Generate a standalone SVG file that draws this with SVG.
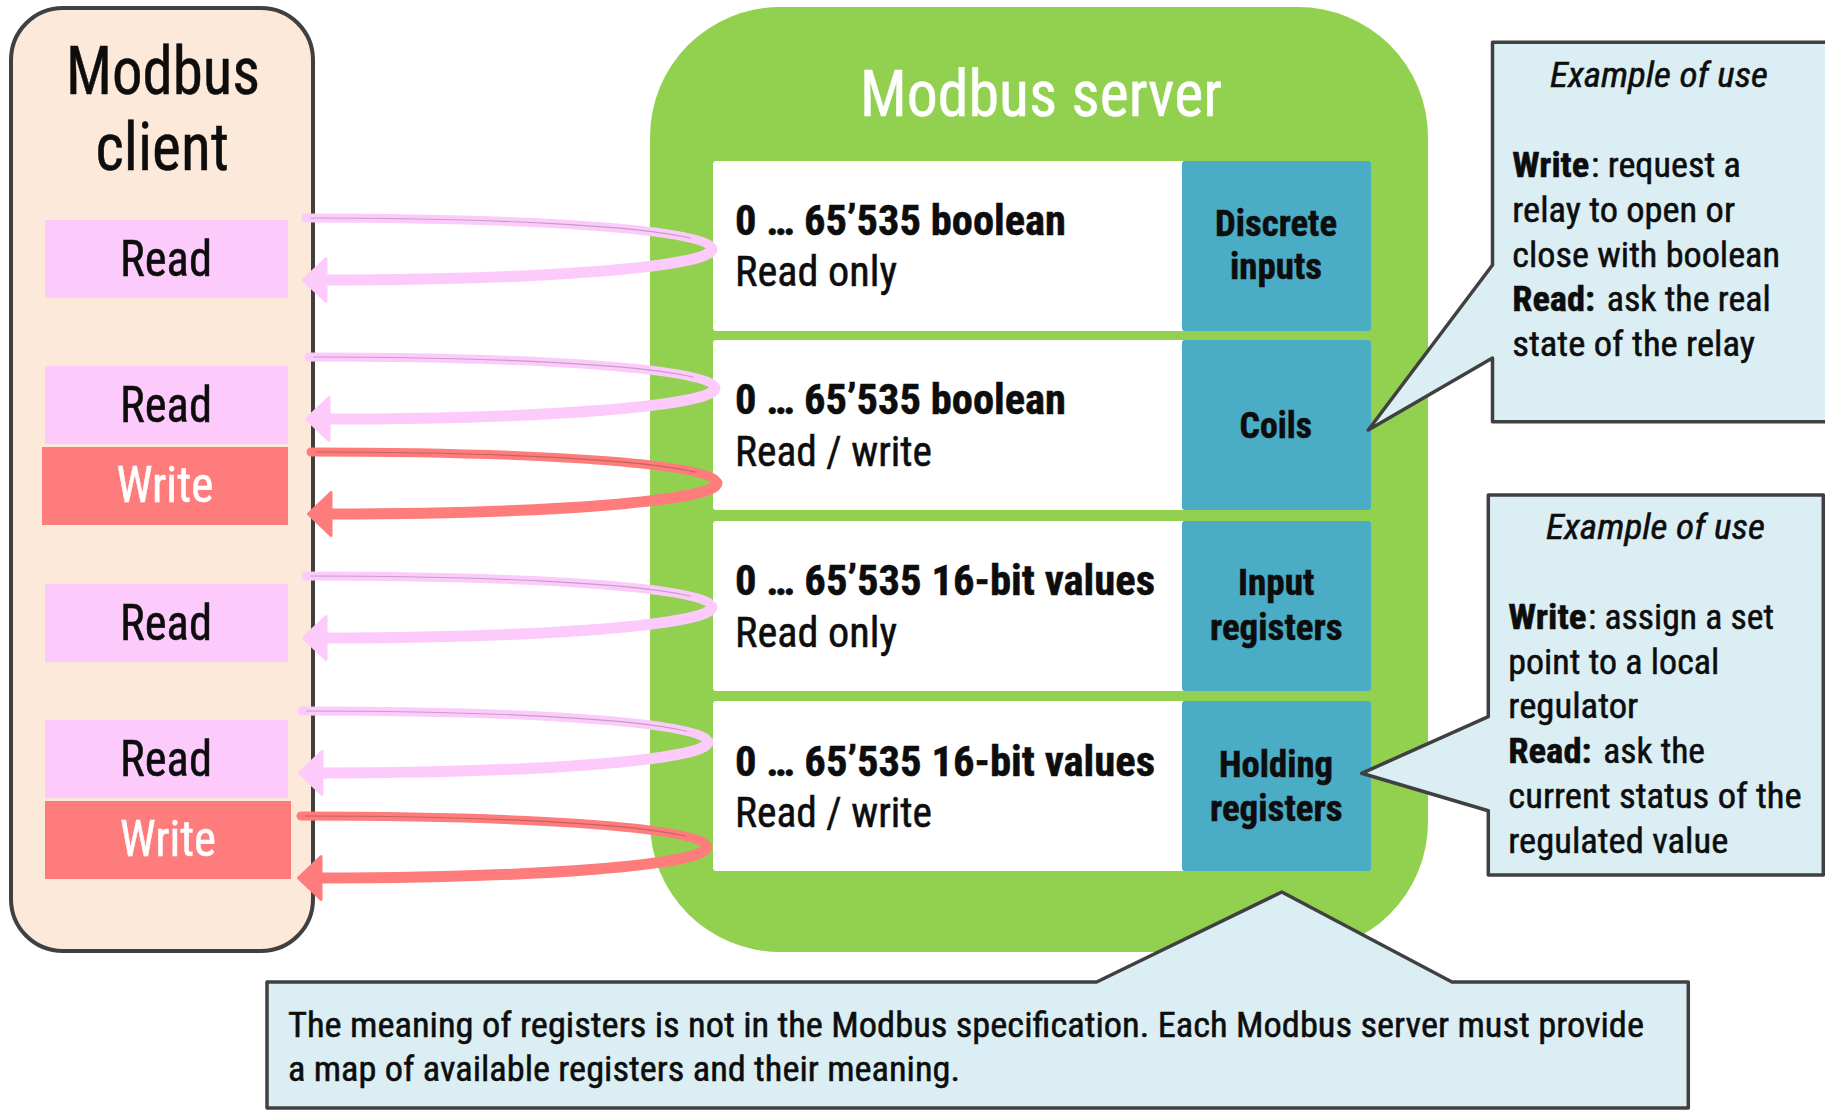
<svg xmlns="http://www.w3.org/2000/svg" xmlns:xlink="http://www.w3.org/1999/xlink" width="1825" height="1110" viewBox="0 0 1825 1110">
  <style>
    text { font-family: 'Roboto Condensed', Roboto, 'Liberation Sans', sans-serif; font-stretch: condensed; fill: #0d0d0d; stroke: #0d0d0d; stroke-width: 0.5px; }
    .title-client { font-size: 66px; }
    .title-server { font-size: 64px; fill: #ffffff; stroke: #ffffff; }
    .op { font-size: 50px; }
    .op-write-text { fill: #ffffff; stroke: #ffffff; }
    .op-read-box { fill: #fccbfc; }
    .op-write-box { fill: #fe7c7c; }
    .range { font-size: 42px; font-weight: bold; }
    .access { font-size: 42px; }
    .kind { font-size: 36px; font-weight: bold; }
    .cell { fill: #ffffff; }
    .kind-box { fill: #4bacc6; }
    .note-shape { fill: #daeef3; stroke: #404040; stroke-width: 3.5; stroke-linejoin: round; }
    .note { font-size: 35px; }
    .note-head { font-size: 35px; font-style: italic; }
    .note-b { font-size: 35px; font-weight: bold; }
    .pink { color: #fccbfc; }
    .red { color: #fe7c7c; }
  </style>
  <defs>
    <!-- request/response loop: origin = arrow tip x, upper stroke y -->
    <g id="loop">
      <path d="M4,0 C250,0 410,13 410,31" fill="none" stroke="currentColor" stroke-width="9" stroke-linecap="round"/>
      <path d="M4,0 C250,0 410,13 410,31" fill="none" stroke="#000" stroke-opacity="0.22" stroke-width="1.2" pathLength="100" stroke-dasharray="0 1 93 10"/>
      <path d="M410,31 C410,49 240,62 22,62" fill="none" stroke="currentColor" stroke-width="11" stroke-linecap="round"/>
      <polygon points="1.5,62 24,40.5 24,83.5" fill="currentColor" stroke="currentColor" stroke-width="3" stroke-linejoin="round"/>
    </g>
  </defs>

  <rect width="1825" height="1110" fill="#ffffff"/>

  <!-- client -->
  <g id="modbus-client">
    <rect x="11" y="8" width="302" height="943" rx="52" fill="#fde9d9" stroke="#404040" stroke-width="4"/>
    <text class="title-client" x="66" y="93.5" textLength="194" lengthAdjust="spacingAndGlyphs">Modbus</text>
    <text class="title-client" x="95.4" y="170" textLength="133.6" lengthAdjust="spacingAndGlyphs">client</text>
  </g>
  <g id="client-read-1">
    <rect class="op-read-box" x="45" y="220" width="243" height="78"/>
    <text class="op" x="120" y="276" textLength="92" lengthAdjust="spacingAndGlyphs">Read</text>
  </g>
  <g id="client-read-2">
    <rect class="op-read-box" x="45" y="366" width="243" height="78"/>
    <text class="op" x="120" y="422" textLength="92" lengthAdjust="spacingAndGlyphs">Read</text>
  </g>
  <g id="client-write-1">
    <rect class="op-write-box" x="42" y="447" width="246" height="78"/>
    <text class="op op-write-text" x="116.4" y="502" textLength="97" lengthAdjust="spacingAndGlyphs">Write</text>
  </g>
  <g id="client-read-3">
    <rect class="op-read-box" x="45" y="584" width="243" height="78"/>
    <text class="op" x="120" y="640" textLength="92" lengthAdjust="spacingAndGlyphs">Read</text>
  </g>
  <g id="client-read-4">
    <rect class="op-read-box" x="45" y="720" width="243" height="78"/>
    <text class="op" x="120" y="776" textLength="92" lengthAdjust="spacingAndGlyphs">Read</text>
  </g>
  <g id="client-write-2">
    <rect class="op-write-box" x="45" y="801" width="246" height="78"/>
    <text class="op op-write-text" x="120" y="856" textLength="96" lengthAdjust="spacingAndGlyphs">Write</text>
  </g>

  <!-- server -->
  <g id="modbus-server">
    <rect x="650" y="7" width="778" height="945" rx="130" fill="#92d050"/>
    <text class="title-server" x="860" y="116" textLength="362" lengthAdjust="spacingAndGlyphs">Modbus server</text>
  </g>
  <g id="discrete-inputs">
    <rect class="cell" x="713" y="161" width="472" height="170" rx="3"/>
    <rect class="kind-box" x="1182" y="161" width="189" height="170" rx="3"/>
    <text class="range" x="735" y="235" textLength="331" lengthAdjust="spacingAndGlyphs">0 … 65’535 boolean</text>
    <text class="access" x="735" y="286" textLength="162" lengthAdjust="spacingAndGlyphs">Read only</text>
    <text class="kind" x="1215" y="236" textLength="122" lengthAdjust="spacingAndGlyphs">Discrete</text>
    <text class="kind" x="1230" y="279" textLength="92" lengthAdjust="spacingAndGlyphs">inputs</text>
  </g>
  <g id="coils">
    <rect class="cell" x="713" y="340" width="472" height="170" rx="3"/>
    <rect class="kind-box" x="1182" y="340" width="189" height="170" rx="3"/>
    <text class="range" x="735" y="414" textLength="331" lengthAdjust="spacingAndGlyphs">0 … 65’535 boolean</text>
    <text class="access" x="735" y="466" textLength="197" lengthAdjust="spacingAndGlyphs">Read / write</text>
    <text class="kind" x="1239.5" y="437.5" textLength="72.5" lengthAdjust="spacingAndGlyphs">Coils</text>
  </g>
  <g id="input-registers">
    <rect class="cell" x="713" y="521" width="472" height="170" rx="3"/>
    <rect class="kind-box" x="1182" y="521" width="189" height="170" rx="3"/>
    <text class="range" x="735" y="594.5" textLength="420" lengthAdjust="spacingAndGlyphs">0 … 65’535 16-bit values</text>
    <text class="access" x="735" y="647" textLength="162" lengthAdjust="spacingAndGlyphs">Read only</text>
    <text class="kind" x="1238" y="595" textLength="76.5" lengthAdjust="spacingAndGlyphs">Input</text>
    <text class="kind" x="1210" y="640" textLength="132.5" lengthAdjust="spacingAndGlyphs">registers</text>
  </g>
  <g id="holding-registers">
    <rect class="cell" x="713" y="701" width="472" height="170" rx="3"/>
    <rect class="kind-box" x="1182" y="701" width="189" height="170" rx="3"/>
    <text class="range" x="735" y="775.5" textLength="420" lengthAdjust="spacingAndGlyphs">0 … 65’535 16-bit values</text>
    <text class="access" x="735" y="827" textLength="197" lengthAdjust="spacingAndGlyphs">Read / write</text>
    <text class="kind" x="1219" y="777" textLength="114" lengthAdjust="spacingAndGlyphs">Holding</text>
    <text class="kind" x="1210" y="821" textLength="132.5" lengthAdjust="spacingAndGlyphs">registers</text>
  </g>

  <!-- request / response loops -->
  <g id="connectors">
    <use xlink:href="#loop" href="#loop" class="pink" transform="translate(302 218)"/>
    <use xlink:href="#loop" href="#loop" class="pink" transform="translate(305 357)"/>
    <use xlink:href="#loop" href="#loop" class="red" transform="translate(307 452)"/>
    <use xlink:href="#loop" href="#loop" class="pink" transform="translate(302 576)"/>
    <use xlink:href="#loop" href="#loop" class="pink" transform="translate(298 711)"/>
    <use xlink:href="#loop" href="#loop" class="red" transform="translate(297 816)"/>
  </g>

  <!-- notes -->
  <g id="note-coils">
    <polygon class="note-shape" points="1492.5,42.3 1830,42.3 1830,421.7 1492.5,421.7 1492.5,358 1368.3,430 1492.5,265"/>
    <text class="note-head" x="1550" y="87.3" textLength="218" lengthAdjust="spacingAndGlyphs">Example of use</text>
    <text class="note-b" x="1512.3" y="176.7" textLength="77" lengthAdjust="spacingAndGlyphs">Write</text>
    <text class="note" x="1591" y="176.7" textLength="149.7" lengthAdjust="spacingAndGlyphs">: request a</text>
    <text class="note" x="1512.3" y="221.7" textLength="222.7" lengthAdjust="spacingAndGlyphs">relay to open or</text>
    <text class="note" x="1512.3" y="266.7" textLength="267.7" lengthAdjust="spacingAndGlyphs">close with boolean</text>
    <text class="note-b" x="1512.3" y="311" textLength="82.7" lengthAdjust="spacingAndGlyphs">Read:</text>
    <text class="note" x="1606.7" y="311" textLength="164" lengthAdjust="spacingAndGlyphs">ask the real</text>
    <text class="note" x="1512.3" y="356" textLength="242.7" lengthAdjust="spacingAndGlyphs">state of the relay</text>
  </g>
  <g id="note-holding">
    <polygon class="note-shape" points="1488.3,495 1823.3,495 1823.3,875 1488.3,875 1488.3,810.7 1361.7,773.3 1488.3,716.7"/>
    <text class="note-head" x="1546" y="539.3" textLength="219" lengthAdjust="spacingAndGlyphs">Example of use</text>
    <text class="note-b" x="1508.3" y="629.3" textLength="78.3" lengthAdjust="spacingAndGlyphs">Write</text>
    <text class="note" x="1588" y="629.3" textLength="186" lengthAdjust="spacingAndGlyphs">: assign a set</text>
    <text class="note" x="1508.3" y="674" textLength="211" lengthAdjust="spacingAndGlyphs">point to a local</text>
    <text class="note" x="1508.3" y="718.3" textLength="130" lengthAdjust="spacingAndGlyphs">regulator</text>
    <text class="note-b" x="1508.3" y="763.3" textLength="83.3" lengthAdjust="spacingAndGlyphs">Read:</text>
    <text class="note" x="1603.3" y="763.3" textLength="101.7" lengthAdjust="spacingAndGlyphs">ask the</text>
    <text class="note" x="1508.3" y="808.3" textLength="293.4" lengthAdjust="spacingAndGlyphs">current status of the</text>
    <text class="note" x="1508.3" y="852.7" textLength="220" lengthAdjust="spacingAndGlyphs">regulated value</text>
  </g>
  <g id="note-meaning">
    <polygon class="note-shape" points="267,982 1096.6,982 1281.8,892 1452,982 1688.3,982 1688.3,1108 267,1108"/>
    <text class="note" x="288" y="1037" textLength="1356" lengthAdjust="spacingAndGlyphs">The meaning of registers is not in the Modbus specification. Each Modbus server must provide</text>
    <text class="note" x="288" y="1081" textLength="672" lengthAdjust="spacingAndGlyphs">a map of available registers and their meaning.</text>
  </g>
</svg>
